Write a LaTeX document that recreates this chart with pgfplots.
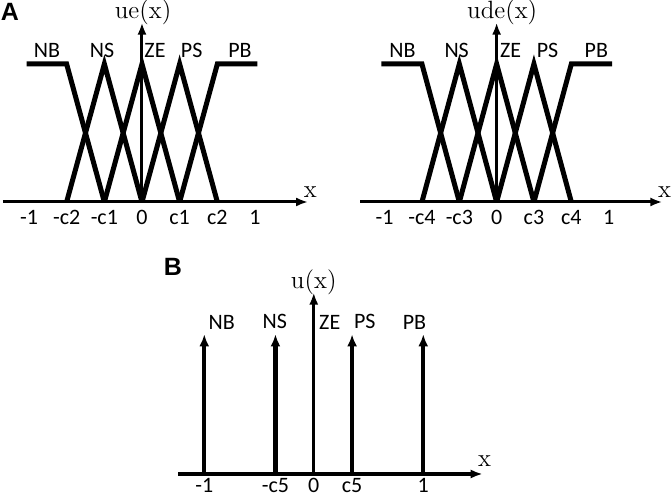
\documentclass[border=0pt]{standalone}
\usepackage{pgfplots}
\pgfplotsset{compat=1.18}
\usetikzlibrary{arrows.meta}
\usepackage{fontspec}
\newfontfamily\carlito{Carlito}
\newfontfamily\arialf{Liberation Sans}
\begin{document}
\begin{tikzpicture}
\useasboundingbox (0,0) rectangle (335.5pt,248.5pt);
\tikzset{
  lab/.style={font=\carlito\fontsize{11}{13}\selectfont, inner sep=0pt},
  ser/.style={font=\fontsize{12.5}{14}\selectfont, inner sep=0pt},
  mfline/.style={black, line width=2.5pt, line join=miter}
}
\pgfplotsset{
  mf/.style={
    axis lines=middle, scale only axis, clip=false,
    ymin=0, ymax=1.3,
    ytick=\empty, major tick length=0pt, hide obscured x ticks=false,
    axis line style={line width=1.5pt, -{Latex[length=6pt,width=4.5pt]}},
    xticklabel style={font=\carlito\fontsize{11}{13}\selectfont, anchor=north, inner sep=0pt, yshift=-4pt},
  }
}
% ---------- Panel A left ----------
\begin{axis}[mf, x=56.5pt, y=69pt, xmin=-1.23, xmax=1.47,
  at={(1.5pt,147.5pt)}, anchor=south west,
  xtick={-1,-0.667,-0.333,0,0.333,0.667,1},
  xticklabels={-1,-c2,-c1,0,c1,c2,1}]
\addplot[mfline] coordinates {(-1.02,1) (-0.667,1) (-0.333,0)};
\addplot[mfline] coordinates {(-0.667,0) (-0.333,1) (0,0)};
\addplot[mfline] coordinates {(-0.333,0) (0,1) (0.333,0)};
\addplot[mfline] coordinates {(0,0) (0.333,1) (0.667,0)};
\addplot[mfline] coordinates {(0.333,0) (0.667,1) (1.02,1)};
\node[lab] at (axis cs:-0.84,1.10) {NB};
\node[lab] at (axis cs:-0.354,1.10) {NS};
\node[lab] at (axis cs:0.115,1.10) {ZE};
\node[lab] at (axis cs:0.44,1.10) {PS};
\node[lab] at (axis cs:0.867,1.10) {PB};
\node[ser] at (axis cs:0.01,1.377) {ue(x)};
\node[ser] at (axis cs:1.49,0.07) {x};
\end{axis}
% ---------- Panel A right ----------
\begin{axis}[mf, x=56pt, y=69pt, xmin=-1.22, xmax=1.48,
  at={(180pt,147.5pt)}, anchor=south west,
  xtick={-1,-0.667,-0.333,0,0.333,0.667,1},
  xticklabels={-1,-c4,-c3,0,c3,c4,1}]
\addplot[mfline] coordinates {(-1.03,1) (-0.667,1) (-0.333,0)};
\addplot[mfline] coordinates {(-0.667,0) (-0.333,1) (0,0)};
\addplot[mfline] coordinates {(-0.333,0) (0,1) (0.333,0)};
\addplot[mfline] coordinates {(0,0) (0.333,1) (0.667,0)};
\addplot[mfline] coordinates {(0.333,0) (0.667,1) (1.03,1)};
\node[lab] at (axis cs:-0.84,1.10) {NB};
\node[lab] at (axis cs:-0.357,1.10) {NS};
\node[lab] at (axis cs:0.125,1.10) {ZE};
\node[lab] at (axis cs:0.455,1.10) {PS};
\node[lab] at (axis cs:0.89,1.10) {PB};
\node[ser] at (axis cs:0.05,1.377) {ude(x)};
\node[ser] at (axis cs:1.5,0.07) {x};
\end{axis}
% ---------- Panel B ----------
\begin{axis}[mf, x=54.75pt, y=69.8pt, xmin=-1.24, xmax=1.543,
  at={(89pt,11.5pt)}, anchor=south west,
  axis line style={line width=1.6pt, -{Latex[length=6pt,width=4.5pt]}},
  xticklabel style={yshift=2pt},
  xtick={-1,-0.35,0,0.35,1},
  xticklabels={-1,-c5,0,c5,1}]
\addplot[black, line width=2.2pt, -{Latex[length=6pt,width=5pt]}] coordinates {(-1,0) (-1,1)};
\addplot[black, line width=2.2pt, -{Latex[length=6pt,width=5pt]}] coordinates {(-0.35,0) (-0.35,1)};
\addplot[black, line width=2.2pt, -{Latex[length=6pt,width=5pt]}] coordinates {(0.35,0) (0.35,1)};
\addplot[black, line width=2.2pt, -{Latex[length=6pt,width=5pt]}] coordinates {(1,0) (1,1)};
\node[lab] at (axis cs:-0.84,1.085) {NB};
\node[lab] at (axis cs:-0.356,1.09) {NS};
\node[lab] at (axis cs:0.146,1.085) {ZE};
\node[lab] at (axis cs:0.466,1.09) {PS};
\node[lab] at (axis cs:0.92,1.085) {PB};
\node[ser] at (axis cs:0,1.37) {u(x)};
\node[ser] at (axis cs:1.56,0.09) {x};
\end{axis}
\node[font=\arialf\bfseries\fontsize{12.5}{14}\selectfont, inner sep=0pt] at (5pt,242.5pt) {A};
\node[font=\arialf\bfseries\fontsize{12.5}{14}\selectfont, inner sep=0pt] at (86.5pt,115pt) {B};
\end{tikzpicture}
\end{document}
